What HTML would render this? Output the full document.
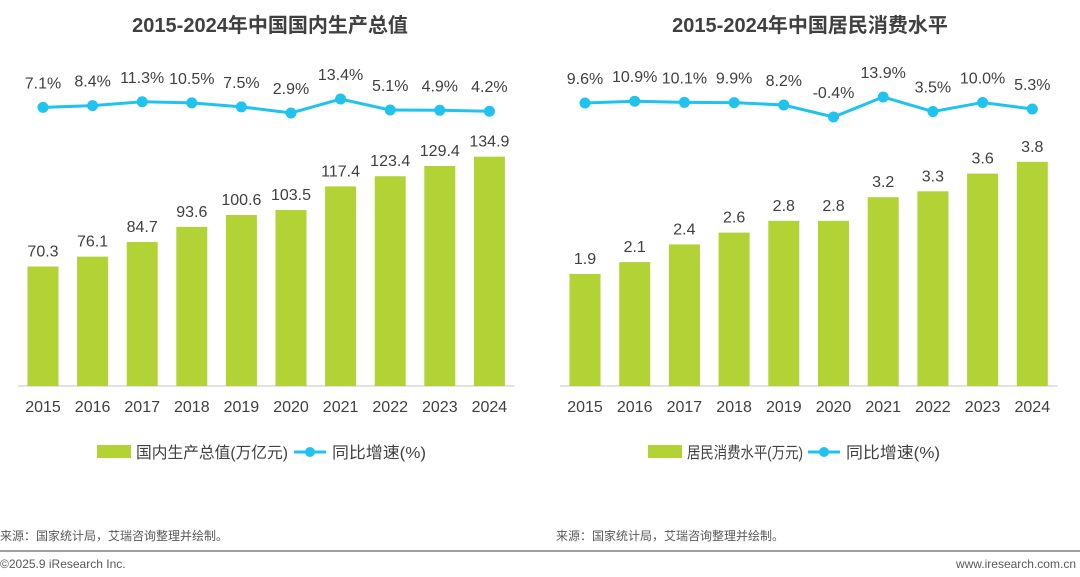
<!DOCTYPE html>
<html><head><meta charset="utf-8"><style>
body{margin:0;width:1080px;height:572px;background:#fff;overflow:hidden;font-family:"Liberation Sans","Noto Sans CJK SC",sans-serif}
svg text{font-family:"Liberation Sans","Noto Sans CJK SC",sans-serif}
</style></head><body>
<svg id="s" width="1080" height="572">
<text x="270" y="32" text-anchor="middle" font-size="20" font-weight="bold" fill="#404040">2015-2024年中国国内生产总值</text>
<text x="810" y="32" text-anchor="middle" font-size="20" font-weight="bold" fill="#404040">2015-2024年中国居民消费水平</text>
<rect x="97" y="445" width="34" height="13" fill="#b2d235"/>
<text x="136" y="458" font-size="16" fill="#404040" textLength="152" lengthAdjust="spacingAndGlyphs">国内生产总值(万亿元)</text>
<line x1="294" y1="452" x2="326" y2="452" stroke="#1fc3ee" stroke-width="3"/>
<circle cx="310" cy="452" r="5" fill="#1fc3ee"/>
<text x="332" y="458" font-size="16" fill="#404040" textLength="94" lengthAdjust="spacingAndGlyphs">同比增速(%)</text>
<rect x="648" y="445" width="34" height="13" fill="#b2d235"/>
<text x="687" y="458" font-size="16" fill="#404040" textLength="116" lengthAdjust="spacingAndGlyphs">居民消费水平(万元)</text>
<line x1="808" y1="452" x2="840" y2="452" stroke="#1fc3ee" stroke-width="3"/>
<circle cx="824" cy="452" r="5" fill="#1fc3ee"/>
<text x="846" y="458" font-size="16" fill="#404040" textLength="94" lengthAdjust="spacingAndGlyphs">同比增速(%)</text>
<text x="0" y="540" font-size="12" fill="#595959">来源：国家统计局，艾瑞咨询整理并绘制。</text>
<text x="556" y="540" font-size="12" fill="#595959">来源：国家统计局，艾瑞咨询整理并绘制。</text>
<line x1="0" y1="551" x2="1080" y2="551" stroke="#808080" stroke-width="1.5"/>
<text x="0" y="568" font-size="12" fill="#595959">©2025.9 iResearch Inc.</text>
<text x="1076" y="568" text-anchor="end" font-size="12" fill="#595959">www.iresearch.com.cn</text>
</svg>
<script>
const years=["2015","2016","2017","2018","2019","2020","2021","2022","2023","2024"];
const gdpValues=[70.3,76.1,84.7,93.6,100.6,103.5,117.4,123.4,129.4,134.9];
const gdpGrowth=[7.1,8.4,11.3,10.5,7.5,2.9,13.4,5.1,4.9,4.2];
const consValues=[1.9,2.1,2.4,2.6,2.8,2.8,3.2,3.3,3.6,3.8];
const consGrowth=[9.6,10.9,10.1,9.9,8.2,-0.4,13.9,3.5,10.0,5.3];
const svg=document.getElementById('s');
const NS='http://www.w3.org/2000/svg';
function mk(t,a){const e=document.createElementNS(NS,t);for(const k in a)e.setAttribute(k,a[k]);svg.appendChild(e);return e;}
function draw(p,vals,growth,x0,dx,barScale,lineY0,lineRef,lineScale,fmt){
  const base=386;
  const ax=mk('line',{x1:x0-25,y1:base,x2:x0+9*dx+25,y2:base,stroke:'#d9d9d9','stroke-width':1.5});
  
  
  const xs=i=>x0+i*dx;
  const yb=v=>base-v*barScale;
  const yl=v=>lineY0+(lineRef-v)*lineScale;
  vals.forEach((v,i)=>{
    const r=mk('rect',{x:xs(i)-15.5,y:yb(v),width:31,height:base-yb(v),fill:'#b2d235'});
    
    
    const t=mk('text',{x:xs(i),y:yb(v)-10,'text-anchor':'middle','font-size':16,fill:'#404040'});
    t.textContent=fmt(v);
    
    
    const l=mk('text',{x:xs(i),y:412,'text-anchor':'middle','font-size':16,fill:'#404040'});
    l.textContent=years[i];
    
    
  });
  const pl=mk('polyline',{points:growth.map((g,i)=>xs(i)+','+yl(g)).join(' '),fill:'none',stroke:'#1fc3ee','stroke-width':3});
  
  
  growth.forEach((g,i)=>{
    const c=mk('circle',{cx:xs(i),cy:yl(g),r:5.5,fill:'#1fc3ee'});
    
    
    const t=mk('text',{x:xs(i),y:yl(g)-19,'text-anchor':'middle','font-size':16,fill:'#404040'});
    t.textContent=g.toFixed(1)+'%';
    
    
  });
}
draw('gdp',gdpValues,gdpGrowth,43,49.6,1.7,99,13.4,1.33,v=>v.toFixed(1));
draw('consumption',consValues,consGrowth,585,49.7,59,97,13.9,1.4,v=>v.toFixed(1));
</script>
</body></html>
